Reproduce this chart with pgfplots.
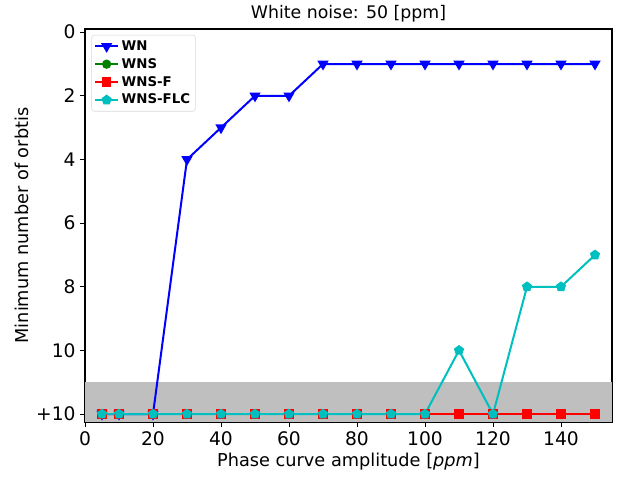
\documentclass[border=0pt]{standalone}
\usepackage{pgfplots}
\pgfplotsset{compat=1.18}
\usepackage{fontspec}
\setmainfont{DejaVu Sans}
\usetikzlibrary{plotmarks}
\definecolor{mplblue}{rgb}{0,0,1}
\definecolor{mplgreen}{rgb}{0,0.5,0}
\definecolor{mplred}{rgb}{1,0,0}
\definecolor{mplcyan}{rgb}{0,0.75,0.75}
\definecolor{band}{rgb}{0.75,0.75,0.75}
\begin{document}
\begin{tikzpicture}[x=1pt,y=1pt]
\begin{axis}[
  at={(0,0)}, anchor=south west,
  scale only axis,
  width=395.25pt, height=294.75pt,
  xmin=0, xmax=155,
  ymin=-0.1, ymax=12.25,
  y dir=reverse,
  xtick={0,20,...,140},
  ytick={0,2,4,6,8,10,12},
  yticklabels={0,2,4,6,8,10,+10},
  tick align=outside,
  tick pos=left,
  major tick length=3.5pt,
  every tick/.style={black, line width=0.6pt},
  axis line style={line width=0.8pt},
  tick label style={font=\fontsize{14}{16}\selectfont},
  /pgf/number format/assume math mode=true,
  xlabel={Phase curve amplitude [\textit{ppm}]},
  ylabel={Minimum number of orbtis},
  label style={font=\fontsize{13.3}{15}\selectfont},
  xlabel style={yshift=1pt},
  ylabel style={yshift=-1.5pt},
  title={White noise: 50 [ppm]},
  title style={font=\fontsize{13}{15}\selectfont, yshift=-4pt},
  legend cell align=left,
  legend style={font=\fontsize{10}{12}\selectfont\bfseries, draw=black!15, rounded corners=2pt, inner sep=2pt, row sep=0.5pt, at={(0.012,0.985)}, anchor=north west},
]
\addplot[draw=none, fill=band, forget plot] coordinates {(0,11) (155,11) (155,12.25) (0,12.25)} -- cycle;
\addplot[color=mplblue, line width=1.5pt, mark=triangle*, mark options={rotate=180, scale=1.7, solid}] coordinates {
(5,12) (10,12) (20,12) (30,4) (40,3) (50,2) (60,2) (70,1) (80,1) (90,1) (100,1) (110,1) (120,1) (130,1) (140,1) (150,1)};
\addlegendentry{WN}
\addplot[color=mplgreen, line width=1.5pt, mark=*, mark options={scale=1.35, solid}] coordinates {
(5,12) (10,12) (20,12) (30,12) (40,12) (50,12) (60,12) (70,12) (80,12) (90,12) (100,12) (110,12) (120,12) (130,12) (140,12) (150,12)};
\addlegendentry{WNS}
\addplot[color=mplred, line width=1.5pt, mark=square*, mark options={scale=1.35, solid}] coordinates {
(5,12) (10,12) (20,12) (30,12) (40,12) (50,12) (60,12) (70,12) (80,12) (90,12) (100,12) (110,12) (120,12) (130,12) (140,12) (150,12)};
\addlegendentry{WNS-F}
\addplot[color=mplcyan, line width=1.5pt, mark=pentagon*, mark options={scale=1.55, solid}] coordinates {
(5,12) (10,12) (20,12) (30,12) (40,12) (50,12) (60,12) (70,12) (80,12) (90,12) (100,12) (110,10) (120,12) (130,8) (140,8) (150,7)};
\addlegendentry{WNS-FLC}
\end{axis}
\useasboundingbox (-63.75pt,-42.75pt) rectangle (402.75pt,316.5pt);
\end{tikzpicture}
\end{document}
